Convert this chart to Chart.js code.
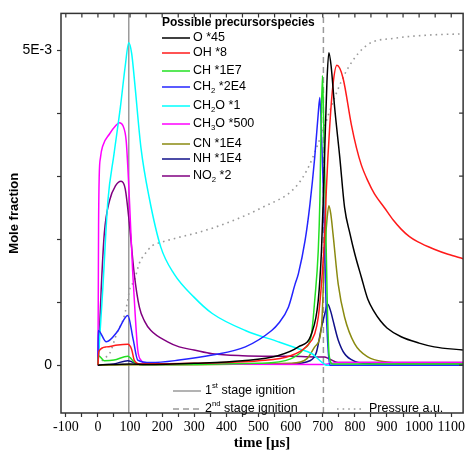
<!DOCTYPE html>
<html>
<head>
<meta charset="utf-8">
<script src="https://cdn.jsdelivr.net/npm/chart.js@4"></script>
<style>
html, body { margin: 0; padding: 0; background: #fff; }
</style>
</head>
<body>
<canvas id="myChart" width="467" height="456"></canvas>
<script>
// time in µs, mole fraction in units of 1E-3 (already multiplied by the factor in the legend)
const O45 = [[0,0],[100,0.02],[150,0.01],[300,0.03],[450,0.07],[560,0.15],[624,0.29],[665,0.5],[686,1.03],[696,1.82],[702,2.7],[707,3.56],[713,4.5],[719,4.96],[726,4.75],[737,4.09],[753,3.3],[768,2.5],[785,2.08],[800,1.76],[820,1.4],[840,1.05],[860,0.85],[880,0.7],[900,0.59],[944,0.45],[1000,0.35],[1047,0.29],[1137,0.24]];
const OH8 = [[0,0],[3,0.22],[26,0.29],[62,0.32],[93,0.33],[105,0.25],[113,0.08],[130,0.02],[300,0.03],[500,0.07],[600,0.15],[650,0.3],[675,0.5],[686,0.76],[696,1.29],[706,2.08],[711,2.77],[722,3.82],[732,4.46],[744,4.76],[763,4.56],[789,3.82],[805,3.45],[820,3.18],[840,2.93],[861,2.72],[892,2.5],[920,2.3],[944,2.16],[970,2.04],[995,1.96],[1047,1.84],[1090,1.76],[1137,1.69]];
const CH1E7 = [[0,0],[2,0.15],[20,0.07],[50,0.08],[93,0.14],[115,0.04],[130,0.01],[500,0.03],[600,0.1],[640,0.25],[665,0.5],[675,1.03],[686,1.82],[691,2.61],[694,3.56],[699,4.6],[704,3.56],[708,2.6],[714,1.0],[720,0.15],[730,0.02],[1137,0.02]];
const CH2_2E4 = [[0,0],[1,0.55],[26,0.37],[60,0.53],[93,0.79],[110,0.4],[124,0.08],[165,0.04],[253,0.08],[356,0.16],[459,0.29],[541,0.55],[562,0.66],[593,0.92],[614,1.29],[624,1.45],[645,1.98],[660,2.55],[675,3.3],[686,4.0],[691,4.25],[697,3.5],[703,2.6],[710,1.0],[716,0.3],[722,0],[1137,0]];
const CH2O1 = [[0,0],[5,0.4],[15,1.2],[31,2.61],[50,3.35],[70,4.1],[85,4.75],[96,5.12],[105,4.95],[114,4.51],[134,3.45],[160,2.65],[196,1.87],[237,1.45],[299,1.08],[356,0.82],[459,0.55],[562,0.37],[624,0.26],[665,0.185],[701,0.03],[710,0],[1137,0]];
const CH3O500 = [[0,0],[1,1.0],[2,2.2],[4,3.0],[8,3.3],[15,3.48],[36,3.67],[55,3.8],[67,3.85],[78,3.8],[88,3.56],[96,2.85],[100,2.4],[108,1.5],[116,0.8],[124,0.24],[135,0.07],[150,0.02],[700,0.01],[750,0.04],[1137,0.04]];
const CN1E4 = [[0,0],[150,0.005],[600,0.03],[650,0.1],[675,0.29],[696,0.61],[706,1.82],[713,2.3],[719,2.53],[725,2.4],[732,2.08],[748,1.29],[768,0.76],[799,0.34],[840,0.13],[900,0.05],[1000,0.02],[1137,0.02]];
const NH1E4 = [[0,0],[50,0.02],[93,0.07],[130,0.01],[600,0.02],[660,0.07],[680,0.2],[696,0.6],[708,0.85],[715,0.97],[725,0.85],[732,0.71],[748,0.4],[768,0.18],[800,0.06],[850,0.02],[1137,0.01]];
const NO2_2 = [[0,0],[3,0.3],[10,1.19],[20,2.1],[36,2.61],[55,2.85],[72,2.92],[85,2.8],[98,2.24],[113,1.45],[129,0.92],[145,0.7],[165,0.55],[217,0.37],[253,0.29],[299,0.24],[356,0.18],[450,0.15],[600,0.14],[680,0.13],[705,0.13],[720,0.1],[748,0.04],[1137,0.04]];
const pressure = [[0,0],[5,0.03],[26,0.13],[36,0.18],[62,0.55],[77,0.7],[93,1.03],[98,1.19],[113,1.34],[129,1.62],[144,1.75],[170,1.9],[196,1.95],[253,2.03],[315,2.11],[408,2.27],[510,2.5],[614,2.82],[655,3.14],[696,3.66],[737,4.25],[779,4.72],[840,5.09],[923,5.19],[1026,5.24],[1137,5.26]];

const ignition1 = 96;
const ignition2 = 702;

const speciesNames = ['O *45', 'OH *8', 'CH *1E7', 'CH_{2} *2E4', 'CH_{2}O *1', 'CH_{3}O *500', 'CN *1E4', 'NH *1E4', 'NO_{2} *2'];
const speciesData = [O45, OH8, CH1E7, CH2_2E4, CH2O1, CH3O500, CN1E4, NH1E4, NO2_2];
const speciesColors = ['#000000', '#ff1a1a', '#22e022', '#2424ff', '#00ffff', '#ff00ff', '#8a8a10', '#10108a', '#800080'];
const legendTitle = 'Possible precursorspecies';
const extraNames = ['1^{st} stage ignition', '2^{nd} stage ignition', 'Pressure a.u.'];

const xTicks = [-100,-50,0,50,100,150,200,250,300,350,400,450,500,550,600,650,700,750,800,850,900,950,1000,1050,1100];
const yTicks = [0,1,2,3,4,5];
const xMin = -115, xMax = 1137, yMin = -0.76, yMax = 5.585;

const SANS = '"Liberation Sans", Arial, sans-serif';
const SERIF = '"Liberation Serif", "Times New Roman", serif';

function toPoints(arr) {
    return arr.map(p => ({x: p[0], y: p[1]}));
}

// text with _{..} subscript and ^{..} superscript parts
function drawRich(ctx, text, x, y, size, bold) {
    const parts = text.split(/([_^]\{[^}]*\})/);
    for (const p of parts) {
        if (!p) continue;
        let s = p, fs = size, dy = 0;
        if (p[0] === '_') { s = p.slice(2, -1); fs = size * 0.62; dy = size * 0.32; }
        else if (p[0] === '^') { s = p.slice(2, -1); fs = size * 0.62; dy = -size * 0.38; }
        ctx.font = (bold ? 'bold ' : '') + fs + 'px ' + SANS;
        ctx.fillText(s, x, y + dy);
        x += ctx.measureText(s).width;
    }
}

const datasets = [];
for (let i = 0; i < speciesData.length; i++) {
    datasets.push({
        label: speciesNames[i],
        data: toPoints(speciesData[i]),
        borderColor: speciesColors[i],
        borderWidth: 1.5
    });
}
datasets.push({ label: 'Pressure a.u.', data: toPoints(pressure), borderColor: '#9a9a9a', borderWidth: 1.6, borderDash: [1.6, 4] });
datasets.push({ label: '1st stage ignition', data: [{x: ignition1, y: yMin}, {x: ignition1, y: yMax}], borderColor: '#9a9a9a', borderWidth: 1.5, cubicInterpolationMode: 'default', tension: 0 });
datasets.push({ label: '2nd stage ignition', data: [{x: ignition2, y: yMin}, {x: ignition2, y: yMax}], borderColor: '#9a9a9a', borderWidth: 1.5, borderDash: [6, 4], cubicInterpolationMode: 'default', tension: 0 });

const framePlugin = {
    id: 'frame',
    afterDatasetsDraw(chart) {
        const {ctx, chartArea: a, scales: {x, y}} = chart;
        ctx.save();
        // box
        ctx.strokeStyle = '#333';
        ctx.lineWidth = 1.5;
        ctx.strokeRect(a.left, a.top, a.right - a.left, a.bottom - a.top);
        // inward ticks on top and right
        ctx.lineWidth = 1.2;
        ctx.beginPath();
        xTicks.forEach(v => { const px = x.getPixelForValue(v); ctx.moveTo(px, a.top); ctx.lineTo(px, a.top + 4); });
        yTicks.forEach(v => { const py = y.getPixelForValue(v); ctx.moveTo(a.right, py); ctx.lineTo(a.right - 4, py); });
        ctx.stroke();

        // species legend
        ctx.fillStyle = '#000';
        ctx.textBaseline = 'middle';
        ctx.textAlign = 'left';
        drawRich(ctx, legendTitle, 162, 23, 12, true);
        const rows = [38, 53, 71, 87, 106, 124, 144, 159, 176];
        for (let i = 0; i < speciesNames.length; i++) {
            ctx.strokeStyle = speciesColors[i];
            ctx.lineWidth = 1.5;
            ctx.setLineDash([]);
            ctx.beginPath();
            ctx.moveTo(162, rows[i]);
            ctx.lineTo(190, rows[i]);
            ctx.stroke();
            drawRich(ctx, speciesNames[i], 193, rows[i], 12.5, false);
        }

        // ignition / pressure legend
        const extra = [
            {x: 173, y: 391, dash: [], w: 1.5},
            {x: 173, y: 409, dash: [6, 4], w: 1.5},
            {x: 337, y: 409, dash: [1.6, 4], w: 1.6}
        ];
        extra.forEach((e, i) => {
            ctx.strokeStyle = '#9a9a9a';
            ctx.lineWidth = e.w;
            ctx.setLineDash(e.dash);
            ctx.beginPath();
            ctx.moveTo(e.x, e.y);
            ctx.lineTo(e.x + 28, e.y);
            ctx.stroke();
            drawRich(ctx, extraNames[i], e.x + 32, e.y, 12.5, false);
        });
        ctx.restore();
    }
};

const config = {
    type: 'line',
    data: { datasets: datasets },
    options: {
        responsive: false,
        animation: false,
        devicePixelRatio: 1,
        layout: { padding: { top: 12, right: 1, left: 0, bottom: 0 } },
        plugins: { legend: { display: false }, tooltip: { enabled: false } },
        elements: { point: { radius: 0 }, line: { cubicInterpolationMode: 'monotone' } },
        scales: {
            x: {
                type: 'linear',
                min: xMin,
                max: xMax,
                afterFit(s) { s.height = 43; },
                afterBuildTicks(s) { s.ticks = xTicks.map(v => ({value: v})); },
                ticks: {
                    autoSkip: false, maxRotation: 0, padding: 2, color: '#000',
                    font: { family: SERIF, size: 14 },
                    callback: v => (v % 100 === 0 ? String(v) : '')
                },
                grid: { drawOnChartArea: false, tickLength: 4, tickColor: '#333', tickWidth: 1.2 },
                border: { display: false },
                title: {
                    display: true, text: 'time [µs]', color: '#000',
                    font: { family: SERIF, size: 15, weight: 'bold' },
                    padding: { top: 0, bottom: 4 }
                }
            },
            y: {
                type: 'linear',
                min: yMin,
                max: yMax,
                afterFit(s) { s.width = 61; },
                afterBuildTicks(s) { s.ticks = yTicks.map(v => ({value: v})); },
                ticks: {
                    padding: 5, color: '#000',
                    font: { family: SANS, size: 14 },
                    callback: v => (v === 0 ? '0' : v === 5 ? '5E-3' : '')
                },
                grid: { drawOnChartArea: false, tickLength: 4, tickColor: '#333', tickWidth: 1.2 },
                border: { display: false },
                title: {
                    display: true, text: 'Mole fraction', color: '#000',
                    font: { family: SANS, size: 13, weight: 'bold' },
                    padding: { top: 7, bottom: 0 }
                }
            }
        }
    },
    plugins: [framePlugin]
};

const myChart = new Chart(document.getElementById('myChart'), config);
</script>
</body>
</html>
